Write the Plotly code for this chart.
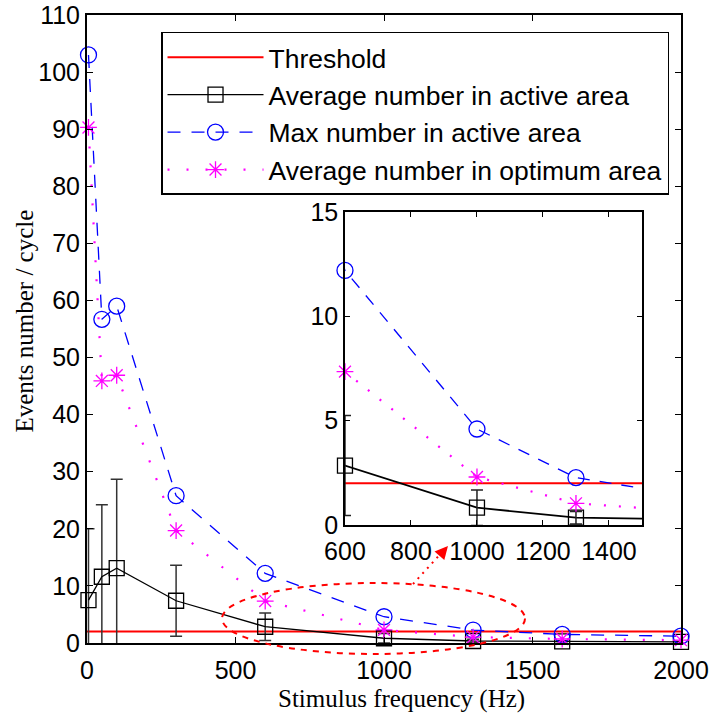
import plotly.graph_objects as go

# ---------------- data ----------------
freq = [5, 50, 100, 300, 600, 1000, 1300, 1600, 2000]
avg_active = [7.5, 11.6, 13.1, 7.4, 2.85, 0.83, 0.35, 0.3, 0.2]
avg_active_err = [12.5, 12.6, 15.6, 6.2, 2.4, 0.85, 0.3, 0.1, 0.1]
max_active = [103.0, 56.7, 59.0, 25.8, 12.2, 4.6, 2.27, 1.5, 1.2]
avg_optimum = [90.3, 45.9, 46.9, 19.7, 7.35, 2.3, 1.04, 0.7, 0.5]
threshold_x = [0, 2000]
threshold_y = [2, 2]
inset_range = [600, 1500]
x_title = "Stimulus frequency (Hz)"
y_title = "Events number / cycle"

TICKFONT = dict(family="Liberation Sans, Arial, sans-serif", size=25, color="black")
TITLEFONT = dict(family="Liberation Serif, Times New Roman, serif", size=25, color="black")

fig = go.Figure()

def add_series(xaxis, yaxis, show_legend, clip_markers_to_range=None):
    suffix = dict(xaxis=xaxis, yaxis=yaxis)
    fig.add_trace(go.Scatter(x=threshold_x, y=threshold_y, mode="lines", name="Threshold",
                             line=dict(color="#ff0000", width=2), showlegend=show_legend, **suffix))
    if clip_markers_to_range is None:
        fig.add_trace(go.Scatter(x=freq, y=avg_active, mode="lines+markers",
                                 name="Average number in active area",
                                 line=dict(color="black", width=1.3),
                                 marker=dict(symbol="square-open", size=15, color="black", line=dict(width=1.3)),
                                 error_y=dict(type="data", array=avg_active_err, color="#333333", thickness=1.5, width=6),
                                 cliponaxis=False, showlegend=show_legend, **suffix))
        fig.add_trace(go.Scatter(x=freq, y=max_active, mode="lines+markers",
                                 name="Max number in active area",
                                 line=dict(color="#0000ff", width=1.3, dash="13px,11px"),
                                 marker=dict(symbol="circle-open", size=16, color="#0000ff", line=dict(width=1.3)),
                                 cliponaxis=False, showlegend=show_legend, **suffix))
        fig.add_trace(go.Scatter(x=freq, y=avg_optimum, mode="lines+markers",
                                 name="Average number in optimum area",
                                 line=dict(color="#ff00ff", width=2.2, dash="2px,17px"),
                                 marker=dict(symbol="asterisk-open", size=14, color="#ff00ff", line=dict(width=1.3, color="#ff00ff")),
                                 cliponaxis=False, showlegend=show_legend, **suffix))
    else:
        lo, hi = clip_markers_to_range
        idx = [i for i, f in enumerate(freq) if lo <= f <= hi]
        fx = [freq[i] for i in idx]
        fig.add_trace(go.Scatter(x=freq, y=avg_active, mode="lines", line=dict(color="black", width=1.8),
                                 showlegend=False, **suffix))
        fig.add_trace(go.Scatter(x=freq, y=max_active, mode="lines",
                                 line=dict(color="#0000ff", width=1.3, dash="12px,10px"), showlegend=False, **suffix))
        fig.add_trace(go.Scatter(x=freq, y=avg_optimum, mode="lines",
                                 line=dict(color="#ff00ff", width=2.2, dash="2px,13px"), showlegend=False, **suffix))
        fig.add_trace(go.Scatter(x=fx, y=[avg_active[i] for i in idx], mode="markers",
                                 marker=dict(symbol="square-open", size=15, color="black", line=dict(width=1.3)),
                                 error_y=dict(type="data", array=[avg_active_err[i] for i in idx],
                                              color="#222222", thickness=1.5, width=6),
                                 cliponaxis=False, showlegend=False, **suffix))
        fig.add_trace(go.Scatter(x=fx, y=[max_active[i] for i in idx], mode="markers",
                                 marker=dict(symbol="circle-open", size=16, color="#0000ff", line=dict(width=1.3)),
                                 cliponaxis=False, showlegend=False, **suffix))
        fig.add_trace(go.Scatter(x=fx, y=[avg_optimum[i] for i in idx], mode="markers",
                                 marker=dict(symbol="asterisk-open", size=14, color="#ff00ff", line=dict(width=1.3, color="#ff00ff")),
                                 cliponaxis=False, showlegend=False, **suffix))

add_series("x", "y", True)
add_series("x2", "y2", False, clip_markers_to_range=inset_range)

axis_common = dict(showline=True, linecolor="black", mirror="ticks", ticks="inside",
                   tickcolor="black", showgrid=False, zeroline=False, tickfont=TICKFONT)

fig.update_layout(
    width=715, height=713,
    margin=dict(l=87, r=34, t=15, b=70, autoexpand=False),
    paper_bgcolor="white", plot_bgcolor="white",
    xaxis=dict(range=[0, 2000], dtick=500, tick0=0, ticklen=6, linewidth=2, ticklabelstandoff=4,
               **axis_common),
    yaxis=dict(range=[0, 110], dtick=10, tick0=0, ticklen=6, linewidth=2, **axis_common),
    xaxis2=dict(domain=[0.4343, 0.9343], anchor="y2", range=inset_range, dtick=200, tick0=600,
                ticklen=5, linewidth=1.5, ticklabelstandoff=3, **axis_common),
    yaxis2=dict(domain=[0.1879, 0.6863], anchor="x2", range=[0, 15], dtick=5, tick0=0,
                ticklen=5, linewidth=1.5, **axis_common),
    legend=dict(x=0.1246, y=0.973, xanchor="left", yanchor="top",
                bgcolor="white", bordercolor="black", borderwidth=1.5,
                font=dict(family="Liberation Sans, Arial, sans-serif", size=26.5, color="black"),
                itemwidth=96, tracegroupgap=0),
    showlegend=True,
)

# axis titles placed as in the reference
fig.add_annotation(xref="paper", yref="paper", x=0.530, y=-0.0892, text=x_title,
                   showarrow=False, font=TITLEFONT, xanchor="center", yanchor="middle")
fig.add_annotation(xref="paper", yref="paper", x=-0.106, y=0.512, text=y_title, textangle=-90,
                   showarrow=False, font=TITLEFONT, xanchor="center", yanchor="middle")

# dashed ellipse highlighting the zoomed region
fig.add_shape(type="circle", xref="paper", yref="paper",
              x0=0.2273, x1=0.7374, y0=-0.0175, y1=0.0955,
              line=dict(color="#ff0000", width=2, dash="6px,6px"))
# dotted arrow pointing at the inset
fig.add_shape(type="line", xref="paper", yref="paper",
              x0=0.5488, y0=0.0939, x1=0.6027, y1=0.1497,
              line=dict(color="#ff0000", width=2, dash="2px,5px"))
fig.add_annotation(xref="paper", yref="paper", x=0.6077, y=0.1545, ax=-7, ay=8,
                   text="", showarrow=True, arrowhead=2, arrowsize=1.3, arrowwidth=2,
                   arrowcolor="#ff0000")

fig.write_html("out.html")
